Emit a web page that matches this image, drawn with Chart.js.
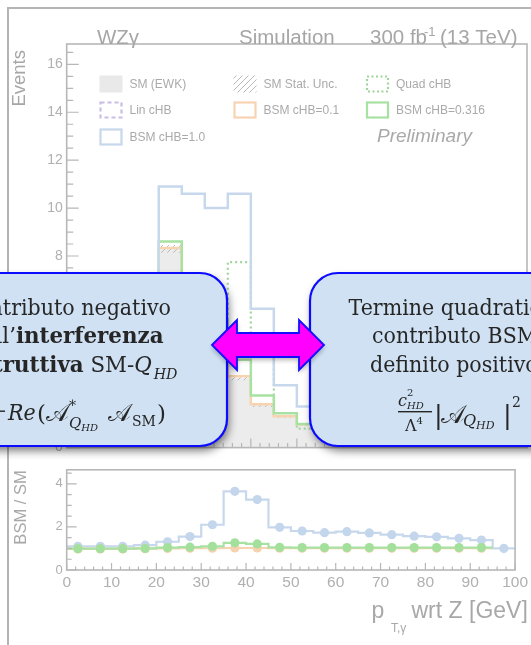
<!DOCTYPE html>
<html lang="it">
<head>
<meta charset="utf-8">
<title>WZγ – BSM cHB</title>
<script src="https://cdn.jsdelivr.net/npm/chart.js@4.4.1/dist/chart.umd.min.js"></script>
<style>
  html, body { margin: 0; padding: 0; background: #ffffff; }
  #page { position: relative; width: 531px; height: 645px; overflow: hidden; background: #ffffff; }
  #outer { position: absolute; left: 7px; top: 7px; width: 600px; height: 700px;
           border-left: 2px solid #b4b4b4; border-top: 2px solid #b4b4b4; }
  canvas { position: absolute; left: 0; }
  #ratioPad { top: 458px; }
  #mainPad { top: 0; }
</style>
</head>
<body>
<div id="page">
  <div id="outer"></div>
  <canvas id="ratioPad" width="531" height="187"></canvas>
  <canvas id="mainPad" width="531" height="460"></canvas>
</div>
<script>
// ---- binning: photon pT w.r.t. Z, 5 GeV bins ----
const binEdges = [0, 5, 10, 15, 20, 25, 30, 35, 40, 45, 50, 55, 60, 65, 70, 75, 80, 85, 90, 95, 100];

// ---- event yields per bin ----
const smEwk      = [1.50, 3.00, 4.50, 6.00, 8.30, 6.60, 4.80, 2.90, 1.77, 1.30, 0.95, 0.72, 0.55, 0.45, 0.36, 0.28, 0.22, 0.17, 0.13, 0.10];
const smStatUnc  = [0.06, 0.09, 0.11, 0.13, 0.16, 0.14, 0.12, 0.09, 0.07, 0.06, 0.05, 0.04, 0.04, 0.03, 0.03, 0.03, 0.02, 0.02, 0.02, 0.02];
const linCHB     = [-0.01, -0.02, -0.03, -0.04, -0.06, -0.05, -0.05, -0.04, -0.03, -0.02, -0.02, -0.01, -0.01, -0.01, -0.01, -0.01, -0.01, 0.00, 0.00, 0.00];
const quadCHB    = [0.16, 0.32, 0.48, 0.94, 2.66, 4.05, 5.25, 7.74, 4.06, 1.32, 0.79, 0.54, 0.44, 0.33, 0.24, 0.17, 0.13, 0.08, 0.05, 0.00];
const bsmCHB01   = [1.50, 3.00, 4.50, 6.01, 8.33, 6.64, 4.85, 2.98, 1.81, 1.31, 0.96, 0.73, 0.55, 0.45, 0.36, 0.28, 0.22, 0.17, 0.13, 0.10];
const bsmCHB0316 = [1.52, 3.03, 4.54, 6.08, 8.60, 7.00, 5.30, 3.67, 2.17, 1.43, 0.99, 0.77, 0.59, 0.48, 0.38, 0.30, 0.23, 0.18, 0.13, 0.10];
const bsmCHB10   = [1.65, 3.30, 4.95, 6.90, 10.90, 10.60, 10.00, 10.60, 5.80, 2.60, 1.72, 1.25, 0.98, 0.77, 0.59, 0.44, 0.34, 0.25, 0.18, 0.10];

// ---- BSM / SM ratios ----
const ratioCHB01   = [0.98, 0.98, 0.98, 0.99, 1.00, 1.01, 1.01, 1.02, 1.02, 1.01, 1.01, 1.01, 1.01, 1.01, 1.01, 1.01, 1.01, 1.01, 1.01, null];
const ratioCHB0316 = [0.99, 0.99, 0.99, 1.00, 1.04, 1.06, 1.10, 1.26, 1.21, 1.05, 1.04, 1.04, 1.04, 1.04, 1.04, 1.04, 1.04, 1.04, 1.04, null];
const ratioCHB10   = [1.10, 1.10, 1.10, 1.15, 1.31, 1.55, 2.10, 3.65, 3.27, 1.98, 1.81, 1.73, 1.78, 1.72, 1.64, 1.57, 1.54, 1.47, 1.39, 1.00];

// ---- axis tick labels ----
const eventsTicks = [0, 2, 4, 6, 8, 10, 12, 14, 16];
const ratioTicks  = [0, 2, 4];
const ptTicks     = [0, 10, 20, 30, 40, 50, 60, 70, 80, 90, 100];

// ---- style ----
const AXIS = '#b7b7b7';
const LABEL = '#b0b0b0';
const C_SM = '#ececec';
const C_HATCH = '#b9b9b9';
const C_QUAD = '#9fd49a';
const C_LIN = '#c9bde3';
const C_01 = '#f8d3b2';
const C_0316 = '#a8e2a2';
const C_10 = '#c7d8ec';
const SANS = '"Liberation Sans", Arial, sans-serif';
const SERIF = '"DejaVu Serif", serif';
const SCRIPT_A = '𝒜';
const NARROW = 0.915;   // horizontal squeeze of the callout serif text
const NARROW_B = 0.95;  // lines containing bold words

function stepPoints(values) {
  const pts = [];
  let last = -1;
  values.forEach((v, i) => { if (v !== null) { pts.push({ x: binEdges[i], y: v }); last = i; } });
  if (last >= 0) pts.push({ x: binEdges[last + 1], y: values[last] });
  return pts;
}
function centerPoints(values) {
  const pts = [];
  values.forEach((v, i) => { if (v !== null) pts.push({ x: (binEdges[i] + binEdges[i + 1]) / 2, y: v }); });
  return pts;
}
function hatchPattern() {
  const c = document.createElement('canvas');
  c.width = 6; c.height = 6;
  const g = c.getContext('2d');
  g.strokeStyle = C_HATCH; g.lineWidth = 1;
  g.beginPath(); g.moveTo(0, 6); g.lineTo(6, 0); g.moveTo(-1, 1); g.lineTo(1, -1); g.moveTo(5, 7); g.lineTo(7, 5); g.stroke();
  return g.createPattern(c, 'repeat');
}
const HATCH = hatchPattern();

function isMultiple(v, step) { const q = v / step; return Math.abs(q - Math.round(q)) < 1e-6; }

// ROOT-style frame with inward ticks
function rootFrame(o) {
  return {
    id: 'rootFrame',
    afterDatasetsDraw(chart) {
      const { ctx, chartArea: a, scales: { x, y } } = chart;
      ctx.save();
      ctx.strokeStyle = AXIS;
      ctx.lineWidth = 1.2;
      ctx.beginPath();
      for (let k = 0; ; k++) {
        const v = y.min + k * o.yMinor;
        if (v > y.max + 1e-9) break;
        const py = y.getPixelForValue(v);
        const len = isMultiple(v, o.yMajor) ? o.yMajorLen : o.yMinorLen;
        ctx.moveTo(a.left, py); ctx.lineTo(a.left + len, py);
      }
      for (let k = 0; ; k++) {
        const v = x.min + k * o.xMinor;
        if (v > x.max + 1e-9) break;
        const px = x.getPixelForValue(v);
        const len = isMultiple(v, o.xMajor) ? o.xMajorLen : o.xMinorLen;
        ctx.moveTo(px, a.bottom); ctx.lineTo(px, a.bottom - len);
      }
      ctx.stroke();
      ctx.lineWidth = 1.6;
      ctx.strokeRect(a.left, a.top, a.right - a.left, a.bottom - a.top);
      ctx.restore();
    }
  };
}

// text made of runs with individual fonts / vertical offsets, optional horizontal squeeze
function runsWidth(ctx, runs, sx) {
  let w = 0;
  for (const r of runs) { ctx.font = r.font; w += (ctx.measureText(r.t).width + (r.gap || 0)) * sx; }
  return w;
}
function drawRuns(ctx, runs, x, base, align, sx) {
  sx = sx || 1;
  ctx.textAlign = 'left';
  ctx.textBaseline = 'alphabetic';
  let cx = align === 'right' ? x - runsWidth(ctx, runs, sx) : x;
  for (const r of runs) {
    ctx.font = r.font;
    ctx.save();
    ctx.translate(cx, base + (r.dy || 0));
    ctx.scale(sx, 1);
    ctx.fillText(r.t, 0, 0);
    ctx.restore();
    cx += (ctx.measureText(r.t).width + (r.gap || 0)) * sx;
  }
}
function text(ctx, t, x, y, font, color, align) {
  ctx.font = font; ctx.fillStyle = color; ctx.textAlign = align || 'left'; ctx.textBaseline = 'alphabetic';
  ctx.fillText(t, x, y);
}

function drawHeader(ctx) {
  ctx.save();
  const f = '20.5px ' + SANS;
  const col = '#a6a6a6';
  text(ctx, 'WZγ', 97, 44, f, col);
  text(ctx, 'Simulation', 239, 44, f, col);
  text(ctx, '300 fb', 370, 44, f, col);
  text(ctx, '-1', 424, 36, '13px ' + SANS, col);
  text(ctx, '(13 TeV)', 440, 44, f, col);
  // y title
  ctx.translate(25, 50);
  ctx.rotate(-Math.PI / 2);
  text(ctx, 'Events', 0, 0, '18.5px ' + SANS, col, 'right');
  ctx.restore();
}

function drawLegend(ctx) {
  ctx.save();
  const cols = [99.5, 233.5, 366];
  const rows = [84, 110, 137];
  const w = 23, h = 17;
  const entries = [
    { c: 0, r: 0, label: 'SM (EWK)', kind: 'fill' },
    { c: 1, r: 0, label: 'SM Stat. Unc.', kind: 'hatch' },
    { c: 2, r: 0, label: 'Quad cHB', kind: 'line', color: C_QUAD, dash: [2, 2.5] },
    { c: 0, r: 1, label: 'Lin cHB', kind: 'line', color: C_LIN, dash: [4, 3] },
    { c: 1, r: 1, label: 'BSM cHB=0.1', kind: 'line', color: C_01 },
    { c: 2, r: 1, label: 'BSM cHB=0.316', kind: 'line', color: C_0316 },
    { c: 0, r: 2, label: 'BSM cHB=1.0', kind: 'line', color: C_10 }
  ];
  for (const e of entries) {
    const x = cols[e.c], yc = rows[e.r], y = yc - h / 2;
    if (e.kind === 'fill') { ctx.fillStyle = '#e9e9e9'; ctx.fillRect(x, y, w, h); }
    else if (e.kind === 'hatch') { ctx.fillStyle = HATCH; ctx.fillRect(x, y, w, h); }
    else {
      ctx.setLineDash(e.dash || []);
      ctx.strokeStyle = e.color; ctx.lineWidth = 2.2;
      ctx.strokeRect(x + 1, y + 1, w - 2, h - 2);
      ctx.setLineDash([]);
    }
    ctx.font = '12px ' + SANS; ctx.fillStyle = '#aaaaaa'; ctx.textAlign = 'left'; ctx.textBaseline = 'middle';
    ctx.fillText(e.label, x + w + 7, yc + 0.5);
  }
  ctx.font = 'italic 19px ' + SANS; ctx.fillStyle = '#a9a9a9'; ctx.textBaseline = 'middle';
  ctx.fillText('Preliminary', 377, 137);
  ctx.restore();
}

function roundRectPath(ctx, x, y, w, h, r) {
  ctx.beginPath();
  ctx.moveTo(x + r, y);
  ctx.arcTo(x + w, y, x + w, y + h, r);
  ctx.arcTo(x + w, y + h, x, y + h, r);
  ctx.arcTo(x, y + h, x, y, r);
  ctx.arcTo(x, y, x + w, y, r);
  ctx.closePath();
}
function drawBox(ctx, x, y, w, h, r) {
  ctx.save();
  roundRectPath(ctx, x, y, w, h, r);
  ctx.shadowColor = 'rgba(0,0,0,0.5)';
  ctx.shadowBlur = 9; ctx.shadowOffsetX = 2; ctx.shadowOffsetY = 5;
  ctx.fillStyle = '#cfe1f3';
  ctx.fill();
  ctx.shadowColor = 'rgba(0,0,0,0)';
  ctx.lineWidth = 2.2; ctx.strokeStyle = '#0b0bff';
  ctx.stroke();
  ctx.restore();
}
function drawArrow(ctx) {
  const yc = 345, tipL = 212, tipR = 324, backL = 237, backR = 299, head = 25, shaft = 12;
  ctx.save();
  ctx.beginPath();
  ctx.moveTo(tipL, yc);
  ctx.lineTo(backL, yc - head);
  ctx.lineTo(backL, yc - shaft);
  ctx.lineTo(backR, yc - shaft);
  ctx.lineTo(backR, yc - head);
  ctx.lineTo(tipR, yc);
  ctx.lineTo(backR, yc + head);
  ctx.lineTo(backR, yc + shaft);
  ctx.lineTo(backL, yc + shaft);
  ctx.lineTo(backL, yc + head);
  ctx.closePath();
  ctx.shadowColor = 'rgba(0,0,0,0.3)'; ctx.shadowBlur = 5; ctx.shadowOffsetY = 3;
  ctx.fillStyle = '#ff00ff';
  ctx.fill();
  ctx.shadowColor = 'rgba(0,0,0,0)';
  ctx.lineWidth = 1.8; ctx.strokeStyle = '#1010ff';
  ctx.stroke();
  ctx.restore();
}

function drawCallouts(ctx) {
  drawBox(ctx, -80, 273, 307, 173, 27);
  drawBox(ctx, 310, 273, 300, 173, 28);
  drawArrow(ctx);

  ctx.save();
  ctx.fillStyle = '#262626';
  const N = '22.5px ' + SERIF, B = 'bold 22.5px ' + SERIF, I = 'italic 22.5px ' + SERIF;
  // interference term
  drawRuns(ctx, [{ t: 'Contributo negativo', font: N }], 171, 315, 'right', NARROW);
  drawRuns(ctx, [{ t: 'dell’', font: N }, { t: 'interferenza', font: B }], 163.5, 343, 'right', NARROW_B);
  drawRuns(ctx, [{ t: 'distruttiva', font: B }, { t: ' SM-', font: N }, { t: 'Q', font: I, gap: 2 },
                 { t: 'HD', font: 'italic 15px ' + SERIF, dy: 7 }], 177.5, 372, 'right', NARROW_B);
  // 2c_HD/Λ² Re(A*_Q_HD A_SM)
  ctx.fillRect(-40, 410.5, 45, 1.4);
  drawRuns(ctx, [{ t: '2', font: '16px ' + SERIF }, { t: 'c', font: 'italic 16px ' + SERIF }, { t: 'HD', font: 'italic 10px ' + SERIF, dy: 3 }], -4, 404, 'right');
  drawRuns(ctx, [{ t: 'Λ', font: '16px ' + SERIF }, { t: '2', font: '10px ' + SERIF, dy: -7 }], -8, 430, 'right');
  drawRuns(ctx, [{ t: 'Re', font: I }], 8, 420, 'left', NARROW);
  drawRuns(ctx, [{ t: '(', font: '23px ' + SERIF }], 37, 421, 'left');
  drawRuns(ctx, [{ t: SCRIPT_A, font: '24px ' + SERIF }], 46, 421, 'left');
  drawRuns(ctx, [{ t: '∗', font: '14px ' + SERIF }], 68, 407, 'left');
  drawRuns(ctx, [{ t: 'Q', font: 'italic 15px ' + SERIF }, { t: 'HD', font: 'italic 10px ' + SERIF, dy: 3 }], 69, 428, 'left');
  drawRuns(ctx, [{ t: SCRIPT_A, font: '24px ' + SERIF }], 108, 421, 'left');
  drawRuns(ctx, [{ t: 'SM', font: '14px ' + SERIF }], 132, 426, 'left');
  drawRuns(ctx, [{ t: ')', font: '23px ' + SERIF }], 157, 421, 'left');

  // quadratic term
  drawRuns(ctx, [{ t: 'Termine quadratico', font: N }], 348.5, 315, 'left', NARROW);
  drawRuns(ctx, [{ t: 'contributo BSM', font: N }], 372, 343, 'left', NARROW);
  drawRuns(ctx, [{ t: 'definito positivo', font: N }], 370, 372, 'left', NARROW);
  // c²_HD/Λ⁴ |A_Q_HD|²
  drawRuns(ctx, [{ t: 'c', font: 'italic 16px ' + SERIF }], 398, 406, 'left');
  drawRuns(ctx, [{ t: '2', font: '10px ' + SERIF }], 407, 396, 'left');
  drawRuns(ctx, [{ t: 'HD', font: 'italic 10px ' + SERIF }], 407, 409, 'left');
  ctx.fillRect(398, 411, 34, 1.4);
  drawRuns(ctx, [{ t: 'Λ', font: '16px ' + SERIF }, { t: '4', font: '10px ' + SERIF, dy: -7 }], 405, 431, 'left');
  drawRuns(ctx, [{ t: '|', font: '26px ' + SERIF }], 434, 424, 'left');
  drawRuns(ctx, [{ t: SCRIPT_A, font: '25px ' + SERIF }], 441, 423, 'left');
  drawRuns(ctx, [{ t: 'Q', font: 'italic 16px ' + SERIF }, { t: 'HD', font: 'italic 11px ' + SERIF, dy: 3 }], 463, 426, 'left');
  drawRuns(ctx, [{ t: '|', font: '26px ' + SERIF }], 503, 424, 'left');
  drawRuns(ctx, [{ t: '2', font: '14px ' + SERIF }], 512, 407, 'left');
  ctx.restore();
}

const mainOverlay = {
  id: 'mainOverlay',
  afterDraw(chart) {
    const ctx = chart.ctx;
    drawHeader(ctx);
    drawLegend(ctx);
    drawCallouts(ctx);
  }
};

const ratioOverlay = {
  id: 'ratioOverlay',
  afterDraw(chart) {
    const ctx = chart.ctx;
    ctx.save();
    ctx.fillStyle = '#a8a8a8';
    drawRuns(ctx, [{ t: 'p', font: '23px ' + SANS }], 371.5, 160, 'left');
    drawRuns(ctx, [{ t: 'T,γ', font: '12px ' + SANS }], 391, 174, 'left');
    drawRuns(ctx, [{ t: 'wrt Z [GeV]', font: '23px ' + SANS }], 411.5, 160, 'left');
    ctx.translate(26, 49.5);
    ctx.rotate(-Math.PI / 2);
    ctx.font = '16.5px ' + SANS; ctx.textAlign = 'center'; ctx.textBaseline = 'alphabetic';
    ctx.fillText('BSM / SM', 0, 0);
    ctx.restore();
  }
};

function stepLine(values, color, width, order, extra) {
  return Object.assign({
    data: stepPoints(values), stepped: 'before', borderColor: color, borderWidth: width,
    pointRadius: 0, fill: false, order: order, tension: 0
  }, extra || {});
}
function markers(values, color, order) {
  return { data: centerPoints(values), showLine: false, pointRadius: 4.6, pointHoverRadius: 4.6,
           pointBackgroundColor: color, pointBorderWidth: 0, borderColor: color, order: order };
}

function ticksFrom(arr) { return scale => { scale.ticks = arr.map(v => ({ value: v })); }; }

// ---- upper pad: event yields ----
new Chart(document.getElementById('mainPad'), {
  type: 'line',
  data: {
    datasets: [
      stepLine(smEwk, 'rgba(0,0,0,0)', 0, 10, { fill: 'origin', backgroundColor: C_SM }),
      stepLine(smEwk.map((v, i) => v + smStatUnc[i]), 'rgba(0,0,0,0)', 0, 9, { fill: '+1', backgroundColor: HATCH }),
      stepLine(smEwk.map((v, i) => Math.max(0, v - smStatUnc[i])), 'rgba(0,0,0,0)', 0, 9),
      stepLine(quadCHB, C_QUAD, 2.2, 5, { borderDash: [2, 3] }),
      stepLine(linCHB, C_LIN, 2.2, 5, { borderDash: [5, 4] }),
      stepLine(bsmCHB01, C_01, 2.5, 4),
      stepLine(bsmCHB0316, C_0316, 2.5, 3),
      stepLine(bsmCHB10, C_10, 2.5, 2)
    ]
  },
  options: {
    responsive: false, animation: false, devicePixelRatio: 1,
    layout: { padding: { left: 0, right: 4, top: 44, bottom: 0 } },
    plugins: { legend: { display: false }, tooltip: { enabled: false } },
    scales: {
      x: { type: 'linear', min: 0, max: 100, ticks: { display: false }, grid: { display: false, drawTicks: false },
           border: { display: false }, afterFit: s => { s.height = 9; } },
      y: { type: 'linear', min: 0, max: 16.85, afterBuildTicks: ticksFrom(eventsTicks),
           ticks: { color: LABEL, font: { family: SANS, size: 14 }, padding: 4, autoSkip: false },
           grid: { display: false, drawTicks: false }, border: { display: false },
           afterFit: s => { s.width = 66.7; } }
    }
  },
  plugins: [rootFrame({ yMinor: 0.5, yMajor: 2, yMajorLen: 12, yMinorLen: 6.5, xMinor: 2, xMajor: 10, xMajorLen: 9, xMinorLen: 4.5 }), mainOverlay]
});

// ---- lower pad: BSM / SM ----
new Chart(document.getElementById('ratioPad'), {
  type: 'line',
  data: {
    datasets: [
      stepLine(ratioCHB10, C_10, 2.2, 6),
      stepLine(ratioCHB01, C_01, 2.2, 5),
      stepLine(ratioCHB0316, C_0316, 2.2, 4),
      markers(ratioCHB10, '#c4d6ec', 3),
      markers(ratioCHB01, '#f8d1ae', 2),
      markers(ratioCHB0316, '#a3e09c', 1)
    ]
  },
  options: {
    responsive: false, animation: false, devicePixelRatio: 1,
    layout: { padding: { left: 0, right: 4, top: 7, bottom: 0 } },
    plugins: { legend: { display: false }, tooltip: { enabled: false } },
    scales: {
      x: { type: 'linear', min: 0, max: 100, afterBuildTicks: ticksFrom(ptTicks),
           ticks: { color: LABEL, font: { family: SANS, size: 15.5 }, padding: 3, autoSkip: false, maxRotation: 0 },
           grid: { display: false, drawTicks: false }, border: { display: false },
           afterFit: s => { s.height = 75; } },
      y: { type: 'linear', min: 0, max: 4.65, afterBuildTicks: ticksFrom(ratioTicks),
           ticks: { color: LABEL, font: { family: SANS, size: 13 }, padding: 4, autoSkip: false },
           grid: { display: false, drawTicks: false }, border: { display: false },
           afterFit: s => { s.width = 66.7; } }
    }
  },
  plugins: [rootFrame({ yMinor: 0.5, yMajor: 2, yMajorLen: 10, yMinorLen: 5, xMinor: 2, xMajor: 10, xMajorLen: 7, xMinorLen: 3.5 }), ratioOverlay]
});
</script>
</body>
</html>
